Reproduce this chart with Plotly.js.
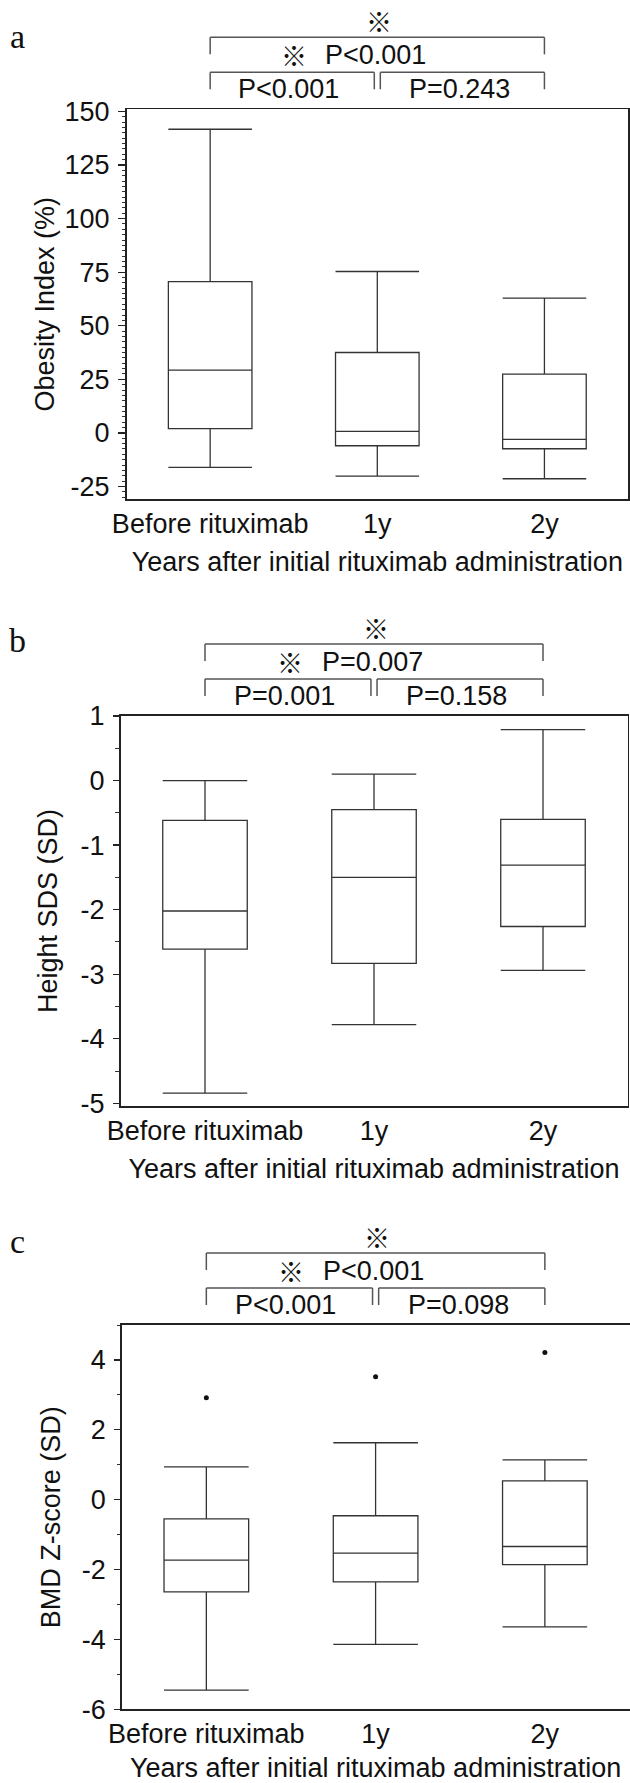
<!DOCTYPE html>
<html>
<head>
<meta charset="utf-8">
<script src="https://cdn.plot.ly/plotly-3.0.1.min.js"></script>
<style>html,body{margin:0;padding:0;background:#fff;}#chart{width:630px;height:1783px;}</style>
</head>
<body>
<div id="chart"></div>
<script>
// ---------- data ----------
const categories = ['Before rituximab', '1y', '2y'];
const xTitle = 'Years after initial rituximab administration';

// Panel a: Obesity Index (%)
const obesityLower  = [-16.1, -20.2, -21.4];
const obesityQ1     = [2.0, -6.0, -7.4];
const obesityMedian = [29.3, 0.7, -3.0];
const obesityQ3     = [70.6, 37.5, 27.4];
const obesityUpper  = [141.7, 75.3, 62.9];
const obesityTicks  = [-25, 0, 25, 50, 75, 100, 125, 150];

// Panel b: Height SDS (SD)
const heightLower  = [-4.84, -3.78, -2.94];
const heightQ1     = [-2.61, -2.83, -2.26];
const heightMedian = [-2.02, -1.50, -1.31];
const heightQ3     = [-0.615, -0.45, -0.60];
const heightUpper  = [0.0, 0.1, 0.79];
const heightTicks  = [-5, -4, -3, -2, -1, 0, 1];

// Panel c: BMD Z-score (SD)
const bmdLower    = [-5.45, -4.14, -3.64];
const bmdQ1       = [-2.64, -2.35, -1.86];
const bmdMedian   = [-1.73, -1.53, -1.34];
const bmdQ3       = [-0.55, -0.46, 0.54];
const bmdUpper    = [0.94, 1.63, 1.14];
const bmdOutliers = [2.92, 3.52, 4.21];
const bmdTicks    = [-6, -4, -2, 0, 2, 4];

// P values
const panelLetters = ['a', 'b', 'c'];
const yTitles = ['Obesity Index (%)', 'Height SDS (SD)', 'BMD Z-score (SD)'];
const pLeft  = ['P<0.001', 'P=0.001', 'P<0.001'];
const pRight = ['P=0.243', 'P=0.158', 'P=0.098'];
const pOuter = ['P<0.001', 'P=0.007', 'P<0.001'];
const mark = '\u203B';

// ---------- layout geometry ----------
const W = 630, H = 1783;
const FONT = "'Liberation Sans', Arial, Helvetica, sans-serif";
const FS = 27;
const TXT = '#111';
const panels = [
  {top: 109.3, bottom: 499.3, left: 126.6, right: 628, range: [-31, 151], ticks: obesityTicks, minor: 2.5, ticklen: 7, ystand: 2, letterY: 36,
   lower: obesityLower, q1: obesityQ1, med: obesityMedian, q3: obesityQ3, upper: obesityUpper},
  {top: 716, bottom: 1106, left: 120.5, right: 627.5, range: [-5.04, 1], ticks: heightTicks, minor: 0.5, ticklen: 6, ystand: 15, letterY: 640,
   lower: heightLower, q1: heightQ1, med: heightMedian, q3: heightQ3, upper: heightUpper},
  {top: 1325, bottom: 1709.3, left: 121.7, right: 629.5, range: [-6, 5], ticks: bmdTicks, minor: 1, ticklen: 6, ystand: 13, letterY: 1241,
   lower: bmdLower, q1: bmdQ1, med: bmdMedian, q3: bmdQ3, upper: bmdUpper}
];
const py = p => 1 - p / H;

const xIdx = categories.map((c, i) => i);
const traces = [];
const layout = {
  width: W, height: H,
  margin: {l: 0, r: 0, t: 0, b: 0},
  paper_bgcolor: '#fff', plot_bgcolor: '#fff',
  showlegend: false,
  font: {family: FONT, size: FS, color: TXT},
  shapes: [], annotations: []
};

panels.forEach((p, i) => {
  const n = i === 0 ? '' : String(i + 1);
  const xa = 'x' + n, ya = 'y' + n;
  traces.push({
    type: 'box', x: xIdx, q1: p.q1, median: p.med, q3: p.q3,
    lowerfence: p.lower, upperfence: p.upper,
    xaxis: xa, yaxis: ya, width: 0.5, whiskerwidth: 1,
    line: {color: '#333', width: 1.3}, fillcolor: 'rgba(255,255,255,0)',
    boxpoints: false, hoverinfo: 'skip'
  });
  layout['xaxis' + n] = {
    domain: [p.left / W, p.right / W], anchor: ya,
    range: [-0.5, 2.5], tickmode: 'array', tickvals: xIdx, ticktext: categories,
    ticks: '', showline: true, mirror: true, linecolor: '#222', linewidth: 1.6,
    showgrid: false, zeroline: false, ticklabelstandoff: 0,
    tickfont: {family: FONT, size: FS, color: TXT},
    title: {text: xTitle, font: {family: FONT, size: FS, color: TXT}, standoff: 14},
    fixedrange: true
  };
  layout['yaxis' + n] = {
    domain: [py(p.bottom), py(p.top)], anchor: xa,
    range: p.range, tickmode: 'array', tickvals: p.ticks, ticktext: p.ticks.map(String),
    ticks: 'outside', ticklen: p.ticklen, tickwidth: 1.3, tickcolor: '#222',
    minor: {dtick: p.minor, tick0: 0, ticks: 'outside', ticklen: 3.5, tickwidth: 1, tickcolor: '#333'},
    showline: true, mirror: true, linecolor: '#222', linewidth: 1.6,
    showgrid: false, zeroline: false, ticklabelstandoff: 3,
    tickfont: {family: FONT, size: FS, color: TXT},
    title: {text: yTitles[i], font: {family: FONT, size: FS, color: TXT}, standoff: p.ystand},
    fixedrange: true
  };

  // brackets
  const T = p.top;
  const ln = {color: '#555', width: 1.5};
  const seg = (x0, x1, y0, y1) => layout.shapes.push({type: 'line', xref: xa, yref: 'paper', x0, x1, y0: py(y0), y1: py(y1), line: ln});
  // outer
  seg(0, 2, T - 72, T - 72); seg(0, 0, T - 72, T - 55); seg(2, 2, T - 72, T - 55);
  // inner left / right
  seg(0, 0.982, T - 37, T - 37); seg(0, 0, T - 37, T - 20); seg(0.982, 0.982, T - 37, T - 20);
  seg(1.018, 2, T - 37, T - 37); seg(1.018, 1.018, T - 37, T - 20); seg(2, 2, T - 37, T - 20);

  const ann = (text, x, y, size, fam) => layout.annotations.push({
    text, x, y: py(y), xref: xa, yref: 'paper', showarrow: false,
    xanchor: 'center', yanchor: 'middle',
    font: {family: fam || FONT, size: size || FS, color: TXT}
  });
  ann(pLeft[i], 0.47, T - 20);
  ann(pRight[i], 1.49, T - 20);
  ann(pOuter[i], 0.99, T - 54);
  ann(mark, 0.5, T - 55, 26, 'Noto Sans CJK JP');
  ann(mark, 1.01, T - 89, 26, 'Noto Sans CJK JP');

  // panel letter
  layout.annotations.push({
    text: panelLetters[i], x: 17 / W, y: py(p.letterY), xref: 'paper', yref: 'paper',
    showarrow: false, xanchor: 'center', yanchor: 'middle',
    font: {family: 'Liberation Serif, Times New Roman, serif', size: 34, color: TXT}
  });
});

// outliers (panel c)
traces.push({
  type: 'scatter', mode: 'markers', x: xIdx, y: bmdOutliers,
  xaxis: 'x3', yaxis: 'y3', marker: {color: '#111', size: 5}, hoverinfo: 'skip'
});

Plotly.newPlot('chart', traces, layout, {displayModeBar: false, staticPlot: true});
</script>
</body>
</html>
